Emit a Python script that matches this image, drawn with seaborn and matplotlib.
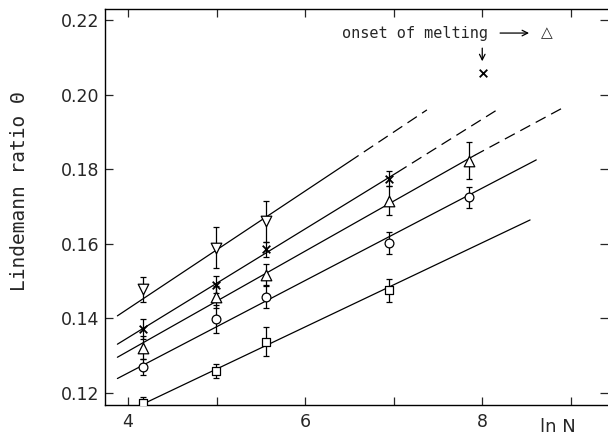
import matplotlib
matplotlib.use("Agg")
import matplotlib.pyplot as plt
import matplotlib.transforms as mtransforms
import seaborn as sns
import pandas as pd

# ---------------- data ----------------
# x positions are ln N
x_tri_down = [4.17, 4.99, 5.56]
y_tri_down = [0.1478, 0.1590, 0.1660]
e_tri_down = [0.0033, 0.0054, 0.0054]

x_cross = [4.17, 4.99, 5.56, 6.95]
y_cross = [0.1372, 0.1491, 0.1586, 0.1775]
e_cross = [0.0026, 0.0022, 0.0020, 0.0020]

x_tri_up = [4.17, 4.99, 5.56, 6.95, 7.85]
y_tri_up = [0.1322, 0.1457, 0.1517, 0.1716, 0.1823]
e_tri_up = [0.0030, 0.0030, 0.0028, 0.0040, 0.0050]

x_circle = [4.17, 4.99, 5.56, 6.95, 7.85]
y_circle = [0.1270, 0.1398, 0.1457, 0.1602, 0.1725]
e_circle = [0.0022, 0.0037, 0.0030, 0.0030, 0.0028]

x_square = [4.17, 4.99, 5.56, 6.95]
y_square = [0.1174, 0.1259, 0.1338, 0.1475]
e_square = [0.0016, 0.0019, 0.0039, 0.0030]

# fitted lines: solid part (start -> end), dashed extrapolation (end -> dash end)
fit_names = ["tri_down", "cross", "tri_up", "circle", "square"]
fit_x0 = [3.88, 3.88, 3.88, 3.88, 4.19]
fit_y0 = [0.1407, 0.1331, 0.1296, 0.1239, 0.1173]
fit_x1 = [6.51, 7.05, 7.92, 8.61, 8.54]
fit_y1 = [0.1822, 0.1793, 0.1838, 0.1825, 0.1664]
dash_x2 = [7.375, 8.16, 8.89, None, None]
dash_y2 = [0.1959, 0.1958, 0.1962, None, None]

# onset of melting point (cross series)
onset_x = [8.01]
onset_y = [0.2057]

x_ticks_major = [4, 6, 8]
x_ticks_all = [4, 5, 6, 7, 8, 9]
y_ticks = [0.12, 0.14, 0.16, 0.18, 0.20, 0.22]
y_tick_labels = ["0.12", "0.14", "0.16", "0.18", "0.20", "0.22"]

# ---------------- figure ----------------
sns.set_style("ticks")
plt.rcParams["font.family"] = ["DejaVu Sans"]

fig = plt.figure(figsize=(6.08, 4.37), dpi=100)
ax = fig.add_axes([0.1727, 0.0732, 0.8273, 0.9058])
ax.set_xlim(3.74, 9.42)
ax.set_ylim(0.1168, 0.2229)

lw = 0.9
# fit lines
for i in range(len(fit_names)):
    seg = pd.DataFrame({"x": [fit_x0[i], fit_x1[i]], "y": [fit_y0[i], fit_y1[i]]})
    sns.lineplot(data=seg, x="x", y="y", ax=ax, color="black", lw=lw,
                 estimator=None, sort=False, zorder=2)
    if dash_x2[i] is not None:
        seg2 = pd.DataFrame({"x": [fit_x1[i], dash_x2[i]], "y": [fit_y1[i], dash_y2[i]]})
        sns.lineplot(data=seg2, x="x", y="y", ax=ax, color="black", lw=lw,
                     estimator=None, sort=False, zorder=2)
        ax.lines[-1].set_linestyle((1.0, (9.0, 5.0)))

series = [
    (x_tri_down, y_tri_down, e_tri_down, "v", 58),
    (x_cross, y_cross, e_cross, "x", 30),
    (x_tri_up, y_tri_up, e_tri_up, "^", 58),
    (x_circle, y_circle, e_circle, "o", 40),
    (x_square, y_square, e_square, "s", 36),
]
for xs, ys, es, mk, s in series:
    ax.errorbar(xs, ys, yerr=es, fmt="none", ecolor="black", elinewidth=0.9,
                capsize=2.3, capthick=0.9, zorder=3)
    df = pd.DataFrame({"x": xs, "y": ys})
    if mk == "x":
        sns.scatterplot(data=df, x="x", y="y", ax=ax, marker="x", s=s,
                        color="black", linewidths=1.3, zorder=4)
    else:
        sns.scatterplot(data=df, x="x", y="y", ax=ax, marker=mk, s=s,
                        facecolor="white", edgecolor="black", linewidth=0.9, zorder=4)

# onset point
sns.scatterplot(x=onset_x, y=onset_y, ax=ax, marker="x", s=30, color="black",
                linewidths=1.3, zorder=4)

# annotation
ax.text(6.42, 0.2165, "onset of melting", family="DejaVu Sans Mono", fontsize=11,
        ha="left", va="center")
ax.annotate("", xy=(8.56, 0.2165), xytext=(8.17, 0.2165),
            arrowprops=dict(arrowstyle="->", color="black", lw=0.9))
ax.text(8.73, 0.2167, "\u25b3", fontsize=11, ha="center", va="center")
ax.annotate("", xy=(8.0, 0.2082), xytext=(8.0, 0.2132),
            arrowprops=dict(arrowstyle="->", color="black", lw=0.9))

# axes styling
ax.set_xticks(x_ticks_all)
ax.set_xticklabels([str(t) if t in x_ticks_major else "" for t in x_ticks_all])
ax.set_yticks(y_ticks)
ax.set_yticklabels(y_tick_labels)
ax.tick_params(axis="both", direction="in", length=6, width=0.9, labelsize=12.5,
               top=True, right=True, pad=4)
ax.tick_params(axis="x", pad=6)
ax.spines["right"].set_visible(False)
for sp in ["left", "bottom", "top"]:
    ax.spines[sp].set_linewidth(1.0)
    ax.spines[sp].set_color("black")

ax.set_xlabel("")
ax.set_ylabel("Lindemann ratio \u0398", family="DejaVu Sans Mono", fontsize=14)
ax.yaxis.set_label_coords(-0.151, 0.54)

trans = mtransforms.blended_transform_factory(ax.transData, ax.transAxes)
ax.text(8.85, -0.056, "ln N", transform=trans, fontsize=13, ha="center", va="center")

fig.savefig("out.png", dpi=100)
